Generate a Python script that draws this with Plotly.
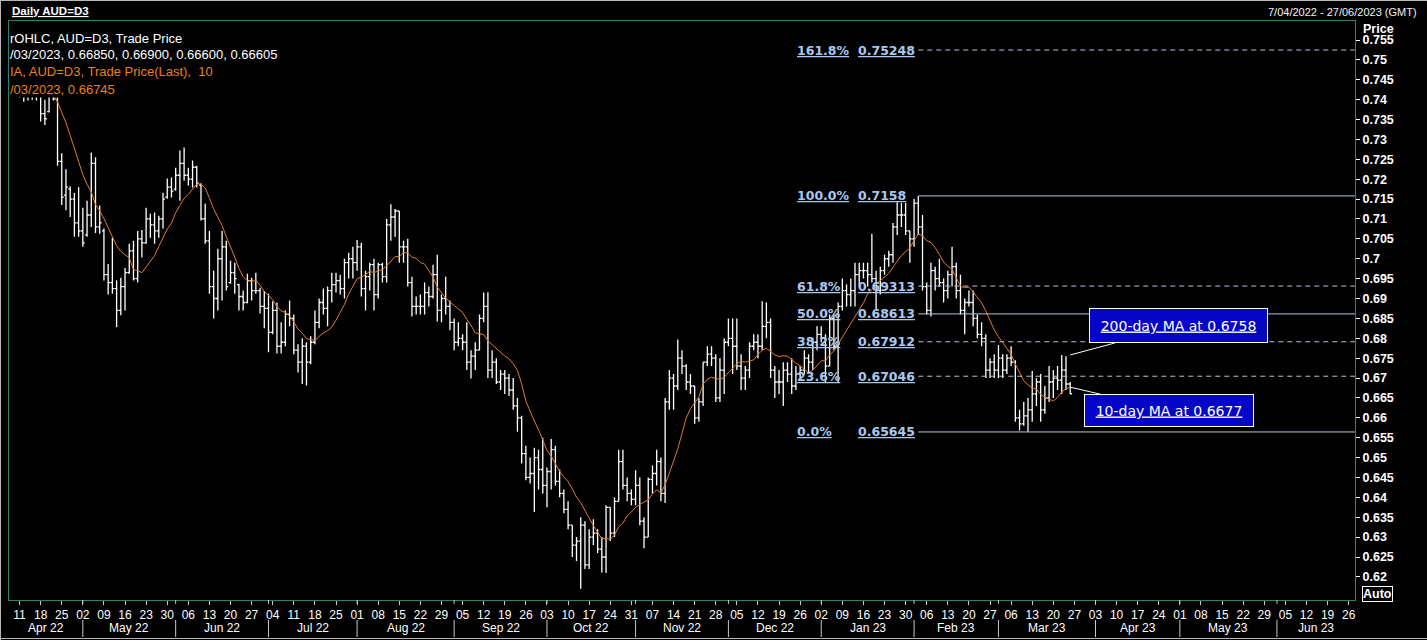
import numpy as np
import pandas as pd
import plotly.graph_objects as go

# ---------------- data ----------------
START_DATE = "2022-04-07"
AXIS_END_DATE = "2023-06-27"

open_ = [
    .7505, .7485, .7455, .7412, .7440, .7468, .7410, .7415, .7365, .7370, .7430, .7400, .7245, .7160, .7175, .7150, .7090,
    .7070, .7060, .7110, .7240, .7080, .7070, .6960, .6940, .6925, .6870, .6930, .6965, .7020, .6950, .7050, .7040, .7100,
    .7085, .7070, .7100, .7155, .7180, .7175, .7210, .7240, .7210, .7200, .7230, .7185, .7100, .7045, .6930, .6900, .7000,
    .7030, .6940, .6965, .6935, .6905, .6890, .6945, .6920, .6920, .6880, .6875, .6815, .6870, .6780, .6790, .6860, .6850,
    .6770, .6740, .6780, .6740, .6790, .6840, .6890, .6875, .6920, .6935, .6945, .6925, .6990, .7000, .6990, .7030, .6925,
    .6955, .6985, .6910, .6985, .6955, .7085, .7105, .7120, .7030, .7030, .6940, .6880, .6880, .6880, .6915, .6905, .6960,
    .6870, .6900, .6880, .6840, .6790, .6800, .6790, .6740, .6755, .6770, .6850, .6880, .6720, .6740, .6690, .6710, .6700,
    .6670, .6630, .6600, .6510, .6450, .6460, .6500, .6470, .6430, .6465, .6520, .6440, .6410, .6370, .6330, .6280, .6290,
    .6330, .6230, .6300, .6310, .6270, .6250, .6375, .6310, .6390, .6490, .6430, .6410, .6395, .6430, .6340, .6300, .6445,
    .6460, .6490, .6410, .6640, .6700, .6680, .6750, .6730, .6690, .6680, .6600, .6640, .6740, .6760, .6750, .6650, .6720,
    .6790, .6800, .6780, .6730, .6700, .6720, .6780, .6790, .6780, .6830, .6840, .6720, .6690, .6690, .6720, .6710, .6680,
    .6710, .6720, .6750, .6740, .6790, .6810, .6800, .6730, .6850, .6780, .6880, .6920, .6910, .6920, .6960, .6970, .6970,
    .6960, .6950, .6920, .6970, .7000, .7010, .7080, .7110, .7110, .7070, .7050, .7140, .7080, .6930, .6870, .6970, .6950,
    .6940, .6920, .6960, .6980, .6920, .6870, .6890, .6890, .6850, .6810, .6800, .6720, .6740, .6720, .6750, .6720, .6750,
    .6740, .6600, .6585, .6605, .6620, .6660, .6690, .6620, .6650, .6690, .6700, .6695, .6720, .6685,
]
high = [
    .7520, .7495, .7462, .7460, .7480, .7470, .7425, .7420, .7400, .7445, .7458, .7410, .7265, .7225, .7182, .7165, .7180,
    .7128, .7146, .7267, .7255, .7134, .7076, .6987, .7053, .6945, .6952, .6977, .7038, .7045, .7070, .7072, .7128, .7113,
    .7116, .7108, .7166, .7202, .7204, .7229, .7272, .7280, .7229, .7247, .7234, .7190, .7139, .7070, .6970, .7025, .7070,
    .7045, .6995, .6990, .6937, .6920, .6962, .6952, .6965, .6927, .6919, .6912, .6893, .6890, .6840, .6870, .6895, .6860,
    .6785, .6800, .6790, .6805, .6870, .6900, .6925, .6930, .6965, .6965, .6960, .7000, .7015, .7030, .7047, .7040, .6970,
    .6990, .7000, .6990, .6990, .7100, .7137, .7125, .7120, .7045, .7050, .6955, .6905, .6910, .6940, .6930, .6985, .7010,
    .6910, .6955, .6895, .6850, .6840, .6810, .6840, .6770, .6790, .6860, .6915, .6916, .6770, .6750, .6720, .6720, .6710,
    .6700, .6650, .6605, .6530, .6500, .6525, .6520, .6550, .6475, .6547, .6530, .6470, .6420, .6390, .6330, .6300, .6350,
    .6340, .6320, .6345, .6320, .6300, .6380, .6375, .6400, .6520, .6520, .6450, .6420, .6468, .6450, .6350, .6450, .6480,
    .6520, .6500, .6650, .6720, .6710, .6797, .6770, .6735, .6710, .6680, .6650, .6740, .6780, .6780, .6760, .6750, .6800,
    .6850, .6850, .6850, .6760, .6730, .6790, .6810, .6810, .6893, .6890, .6850, .6730, .6720, .6740, .6740, .6750, .6730,
    .6730, .6770, .6760, .6800, .6830, .6830, .6810, .6860, .6860, .6890, .6950, .6935, .6950, .6990, .6990, .6990, .6990,
    .7063, .6970, .6980, .7010, .7020, .7090, .7142, .7140, .7140, .7070, .7150, .7158, .7110, .6940, .6990, .6980, .7000,
    .6950, .6970, .7030, .6990, .6960, .6900, .6920, .6920, .6860, .6840, .6810, .6750, .6760, .6783, .6760, .6760, .6780,
    .6745, .6620, .6640, .6650, .6718, .6700, .6710, .6680, .6730, .6720, .6730, .6758, .6755, .6690,
]
low = [
    .7468, .7445, .7405, .7395, .7398, .7400, .7398, .7345, .7336, .7368, .7398, .7234, .7135, .7122, .7105, .7055, .7055,
    .7030, .7055, .7080, .7065, .7063, .6945, .6910, .6912, .6828, .6858, .6870, .6962, .6945, .6940, .7003, .7038, .7053,
    .7038, .7053, .7076, .7151, .7154, .7171, .7146, .7196, .7184, .7179, .7179, .7096, .7038, .6912, .6850, .6870, .6895,
    .6920, .6937, .6912, .6870, .6870, .6888, .6895, .6912, .6862, .6825, .6765, .6810, .6762, .6762, .6780, .6830, .6760,
    .6714, .6685, .6681, .6735, .6785, .6825, .6860, .6830, .6890, .6915, .6910, .6900, .6950, .6950, .6970, .6905, .6870,
    .6920, .6870, .6900, .6940, .6940, .7045, .7055, .6990, .6990, .6930, .6855, .6860, .6860, .6860, .6880, .6900, .6842,
    .6840, .6860, .6820, .6770, .6780, .6770, .6720, .6699, .6720, .6770, .6840, .6700, .6700, .6685, .6670, .6660, .6655,
    .6620, .6565, .6485, .6443, .6435, .6363, .6420, .6410, .6375, .6420, .6430, .6400, .6360, .6320, .6250, .6240, .6170,
    .6220, .6220, .6280, .6260, .6211, .6210, .6290, .6300, .6390, .6420, .6390, .6380, .6380, .6330, .6272, .6300, .6410,
    .6430, .6390, .6386, .6620, .6620, .6670, .6710, .6670, .6660, .6585, .6590, .6630, .6730, .6730, .6640, .6640, .6660,
    .6780, .6710, .6720, .6670, .6670, .6700, .6770, .6750, .6770, .6800, .6700, .6650, .6660, .6630, .6690, .6660, .6670,
    .6700, .6710, .6710, .6720, .6770, .6790, .6690, .6730, .6770, .6690, .6870, .6880, .6880, .6880, .6930, .6950, .6930,
    .6940, .6870, .6910, .6960, .6980, .6990, .7060, .7080, .7060, .6990, .7030, .7060, .6920, .6860, .6855, .6920, .6930,
    .6890, .6900, .6930, .6900, .6860, .6810, .6880, .6830, .6800, .6780, .6700, .6700, .6700, .6700, .6700, .6710, .6730,
    .6590, .6568, .6580, .6565, .6590, .6630, .6590, .6610, .6640, .6650, .6670, .6660, .6670, .6660,
]
close = [
    .7485, .7455, .7412, .7440, .7468, .7410, .7415, .7365, .7352, .7430, .7402, .7245, .7155, .7180, .7150, .7090, .7070,
    .7040, .7110, .7240, .7080, .7090, .6960, .6940, .6925, .6870, .6930, .6965, .7020, .6950, .7050, .7040, .7100, .7085,
    .7070, .7100, .7150, .7180, .7170, .7210, .7240, .7210, .7200, .7230, .7190, .7100, .7045, .6930, .6900, .7000, .7030,
    .6930, .6965, .6950, .6905, .6890, .6945, .6920, .6920, .6880, .6875, .6815, .6870, .6780, .6790, .6860, .6850, .6770,
    .6740, .6780, .6740, .6790, .6840, .6890, .6875, .6920, .6935, .6945, .6925, .6990, .7000, .6990, .7030, .6925, .6955,
    .6985, .6910, .6985, .6955, .7085, .7105, .7120, .7030, .7030, .6940, .6880, .6880, .6880, .6915, .6905, .6960, .6870,
    .6900, .6880, .6840, .6790, .6800, .6790, .6740, .6755, .6770, .6850, .6880, .6720, .6740, .6690, .6710, .6700, .6670,
    .6630, .6600, .6510, .6450, .6460, .6500, .6470, .6430, .6465, .6520, .6440, .6410, .6370, .6330, .6280, .6290, .6330,
    .6230, .6300, .6310, .6270, .6250, .6375, .6310, .6390, .6490, .6430, .6410, .6395, .6430, .6340, .6300, .6445, .6460,
    .6490, .6410, .6640, .6700, .6680, .6750, .6730, .6690, .6680, .6600, .6640, .6740, .6760, .6750, .6650, .6720, .6790,
    .6800, .6780, .6730, .6700, .6720, .6780, .6790, .6780, .6830, .6840, .6720, .6690, .6690, .6720, .6710, .6680, .6710,
    .6720, .6750, .6740, .6790, .6810, .6800, .6730, .6850, .6780, .6880, .6920, .6910, .6920, .6960, .6970, .6970, .6960,
    .6950, .6920, .6970, .7000, .7010, .7080, .7110, .7110, .7070, .7050, .7140, .7080, .6930, .6870, .6970, .6950, .6940,
    .6920, .6960, .6980, .6920, .6870, .6890, .6890, .6850, .6810, .6800, .6720, .6740, .6720, .6750, .6720, .6750, .6740,
    .6600, .6585, .6605, .6620, .6660, .6690, .6620, .6650, .6690, .6700, .6695, .6720, .6685, .66605,
]

MA_PERIOD = 10
fib_pct_labels = ["0.0%", "23.6%", "38.2%", "50.0%", "61.8%", "100.0%", "161.8%"]
fib_prices = [0.65645, 0.67046, 0.67912, 0.68613, 0.69313, 0.7158, 0.75248]
fib_value_labels = ["0.65645", "0.67046", "0.67912", "0.68613", "0.69313", "0.7158", "0.75248"]
fib_dashed = [False, True, True, False, True, False, True]
FIB_START_DATE = "2023-02-02"

ytick_vals = [0.62, 0.625, 0.63, 0.635, 0.64, 0.645, 0.65, 0.655, 0.66, 0.665, 0.67, 0.675, 0.68, 0.685,
              0.69, 0.695, 0.70, 0.705, 0.71, 0.715, 0.72, 0.725, 0.73, 0.735, 0.74, 0.745, 0.75, 0.755]
ytick_text = ["0.62", "0.625", "0.63", "0.635", "0.64", "0.645", "0.65", "0.655", "0.66", "0.665", "0.67",
              "0.675", "0.68", "0.685", "0.69", "0.695", "0.7", "0.705", "0.71", "0.715", "0.72", "0.725",
              "0.73", "0.735", "0.74", "0.745", "0.75", "0.755"]

ma200_text = "200-day MA at 0.6758"
ma200_value = 0.6758
ma10_text = "10-day MA at 0.6677"

legend_lines = [
    ("rOHLC, AUD=D3, Trade Price", "white"),
    ("/03/2023, 0.66850, 0.66900, 0.66600, 0.66605", "white"),
    ("IA, AUD=D3, Trade Price(Last),  10", "#e8801e"),
    ("/03/2023, 0.66745", "#e8801e"),
]

# ---------------- derived ----------------
W, H = 1427, 640
PL, PR, PT, PB = 9, 1355, 21, 600


def pxx(px):
    return (px - PL) / (PR - PL)


def pxy(py):
    return (PB - py) / (PB - PT)


dates = pd.bdate_range(START_DATE, AXIS_END_DATE)
n = len(close)
x = np.arange(n)
xmax = len(dates) - 0.5
ma = pd.Series(close).rolling(MA_PERIOD, min_periods=1).mean()
fib_start = int(np.where(dates == pd.Timestamp(FIB_START_DATE))[0][0])

mondays = [i for i, d in enumerate(dates) if d.weekday() == 0]
monday_text = [dates[i].strftime("%d") for i in mondays]
month_first = []
prev = None
for i, d in enumerate(dates):
    key = (d.year, d.month)
    if key != prev:
        month_first.append(i)
        prev = key

fig = go.Figure()
fig.add_trace(go.Ohlc(
    x=x, open=open_, high=high, low=low, close=close,
    increasing=dict(line=dict(color="white", width=1.3)),
    decreasing=dict(line=dict(color="white", width=1.3)),
    tickwidth=0.45, hoverinfo="skip", showlegend=False,
))
fig.add_trace(go.Scatter(x=x, y=ma, mode="lines", line=dict(color="#e07b28", width=1),
                         hoverinfo="skip", showlegend=False))
# last-value markers beyond the axis
fig.add_trace(go.Scatter(x=[xmax + 1], y=[ma.iloc[-1]], mode="markers", cliponaxis=False,
                         marker=dict(symbol="diamond", size=8, color="#f08a24"), showlegend=False, hoverinfo="skip"))
fig.add_trace(go.Scatter(x=[xmax + 1.3], y=[close[-1]], mode="markers", cliponaxis=False,
                         marker=dict(symbol="diamond", size=8, color="white"), showlegend=False, hoverinfo="skip"))

shapes = []
annotations = []

# fib lines and labels
for pct, price, vlab, dashed in zip(fib_pct_labels, fib_prices, fib_value_labels, fib_dashed):
    shapes.append(dict(type="line", xref="x", yref="y", x0=fib_start, x1=xmax, y0=price, y1=price,
                       line=dict(color="#b4c6dc", width=1, dash="5px,4px" if dashed else "solid")))
    annotations.append(dict(xref="x", yref="y", x=fib_start, y=price, xanchor="left", yanchor="middle",
                            xshift=-123, text="<u>" + pct + "</u>", showarrow=False,
                            font=dict(family="DejaVu Sans", size=12.5, color="#a8c8f0", weight="bold")))
    annotations.append(dict(xref="x", yref="y", x=fib_start, y=price, xanchor="left", yanchor="middle",
                            xshift=-62, text="<u>" + vlab + "</u>", showarrow=False,
                            font=dict(family="DejaVu Sans", size=12.5, color="#a8c8f0", weight="bold")))

# callout boxes
annotations.append(dict(xref="x", yref="y", x=n - 1, y=ma200_value, ax=108, ay=-29,
                        text="<u>" + ma200_text + "</u>", showarrow=True, arrowhead=0, arrowwidth=1,
                        arrowcolor="white", standoff=0, bgcolor="#0505c8", bordercolor="white",
                        borderwidth=1, borderpad=1, width=175, height=31,
                        font=dict(family="DejaVu Sans", size=14, color="white")))
annotations.append(dict(xref="x", yref="y", x=n - 1, y=ma.iloc[-1], ax=99, ay=23,
                        text="<u>" + ma10_text + "</u>", showarrow=True, arrowhead=0, arrowwidth=1,
                        arrowcolor="white", standoff=0, bgcolor="#0505c8", bordercolor="white",
                        borderwidth=1, borderpad=1, width=166, height=29,
                        font=dict(family="DejaVu Sans", size=14, color="white")))

# legend background box and legend lines
shapes.append(dict(type="rect", xref="paper", yref="paper", x0=pxx(PL + 0.5), x1=pxx(285), y0=pxy(97.5),
                   y1=pxy(PT + 1), fillcolor="black", line=dict(width=0), layer="above"))
for k, (txt, col) in enumerate(legend_lines):
    annotations.append(dict(xref="paper", yref="paper", x=pxx(8), y=pxy(38 + 17 * k), xanchor="left",
                            yanchor="middle", text=txt, showarrow=False,
                            font=dict(family="Liberation Sans", size=13, color=col)))

# month labels, separators and month-start ticks
for k, i0 in enumerate(month_first):
    left = i0 if k > 0 else -0.5
    right = month_first[k + 1] if k + 1 < len(month_first) else xmax
    annotations.append(dict(xref="x", yref="paper", x=(left + right) / 2, y=pxy(628), yanchor="middle",
                            text=dates[i0].strftime("%b %y"), showarrow=False,
                            font=dict(family="Liberation Sans", size=12, color="white")))
    if k > 0:
        shapes.append(dict(type="line", xref="x", yref="paper", x0=i0, x1=i0, y0=pxy(620), y1=pxy(637),
                           line=dict(color="#c8c8c8", width=1)))
        shapes.append(dict(type="line", xref="x", yref="paper", x0=i0, x1=i0, y0=pxy(600), y1=pxy(604),
                           line=dict(color="#c8c8c8", width=1)))

# window chrome
annotations.append(dict(xref="paper", yref="paper", x=pxx(10), y=pxy(11), xanchor="left", yanchor="middle",
                        text="<u>Daily AUD=D3</u>", showarrow=False,
                        font=dict(family="Liberation Sans", size=11.5, color="white", weight="bold")))
annotations.append(dict(xref="paper", yref="paper", x=pxx(1419), y=pxy(12), xanchor="right", yanchor="middle",
                        text="7/04/2022 - 27/06/2023 (GMT)", showarrow=False,
                        font=dict(family="Liberation Sans", size=11, color="#f0f0f0")))
annotations.append(dict(xref="paper", yref="paper", x=pxx(1361), y=pxy(29), xanchor="left", yanchor="middle",
                        text="Price", showarrow=False,
                        font=dict(family="Liberation Sans", size=12.5, color="white", weight="bold")))
annotations.append(dict(xref="paper", yref="paper", x=pxx(1362), y=pxy(593.5), xanchor="left", yanchor="middle",
                        text="Auto", showarrow=False, bordercolor="white", borderwidth=1, borderpad=0,
                        font=dict(family="Liberation Sans", size=12.5, color="white", weight="bold")))
for (x0, y0, x1, y1) in [(0, 0.5, W, 0.5), (0.5, 0, 0.5, H), (0, H - 1.5, W, H - 1.5)]:
    shapes.append(dict(type="line", xref="paper", yref="paper", x0=pxx(x0), x1=pxx(x1), y0=pxy(y0), y1=pxy(y1),
                       line=dict(color="#b8b8b8", width=1)))

fig.update_layout(
    width=W, height=H,
    margin=dict(l=PL, r=W - PR, t=PT, b=H - PB),
    paper_bgcolor="black", plot_bgcolor="black",
    showlegend=False,
    font=dict(family="Liberation Sans", color="white"),
    shapes=shapes, annotations=annotations,
    xaxis=dict(range=[-0.5, xmax], tickmode="array", tickvals=mondays, ticktext=monday_text,
               ticks="outside", ticklen=4, tickcolor="#c8c8c8", tickfont=dict(size=12, color="white"),
               showgrid=False, zeroline=False, showline=True, linecolor="#2f7f73", linewidth=1, mirror=True,
               rangeslider=dict(visible=False), fixedrange=True),
    yaxis=dict(side="right", range=[0.61419, 0.75978], tickmode="array", tickvals=ytick_vals,
               ticktext=ytick_text, ticks="outside", ticklen=4, tickcolor="white",
               tickfont=dict(size=12.5, color="white", weight="bold"),
               showgrid=False, zeroline=False, showline=True, linecolor="#2f7f73", linewidth=1, mirror=True,
               fixedrange=True),
)

fig.write_html("out.html", config={"displayModeBar": False},
               post_script="document.body.style.margin='0';document.body.style.overflow='hidden';")
